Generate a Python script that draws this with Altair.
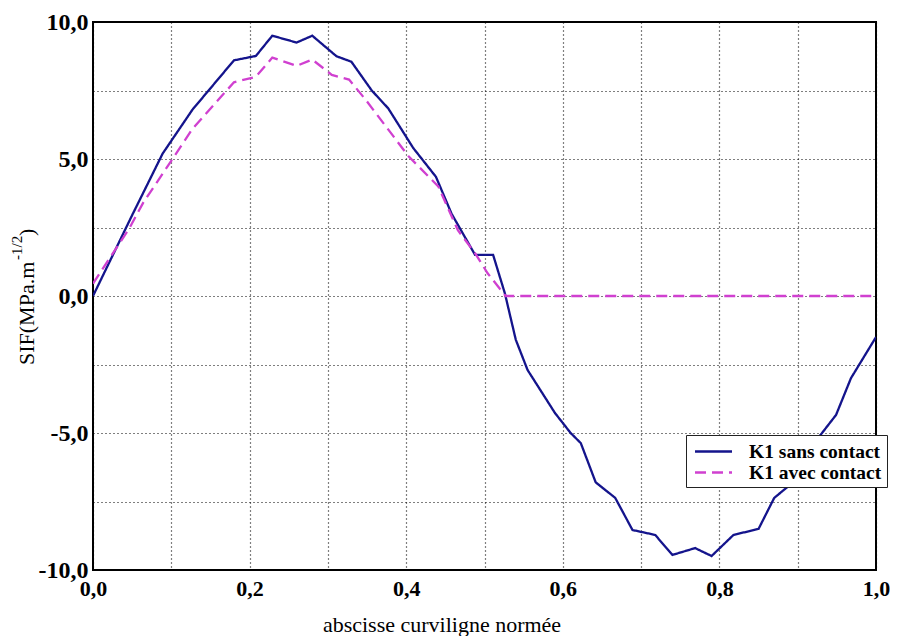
import altair as alt
import pandas as pd

# ---- data ----
series = ["K1 sans contact", "K1 avec contact"]

x_sans = [0.0, 0.05, 0.089, 0.127, 0.18, 0.208, 0.229, 0.26, 0.28, 0.311, 0.33,
          0.356, 0.377, 0.409, 0.438, 0.458, 0.488, 0.511, 0.526, 0.54, 0.555,
          0.59, 0.61, 0.623, 0.642, 0.667, 0.689, 0.718, 0.74, 0.769, 0.79,
          0.818, 0.85, 0.87, 0.894, 0.924, 0.949, 0.968, 1.0]
y_sans = [0.0, 2.95, 5.2, 6.8, 8.6, 8.76, 9.5, 9.25, 9.5, 8.75, 8.55,
          7.5, 6.85, 5.4, 4.35, 3.0, 1.5, 1.5, 0.1, -1.6, -2.7,
          -4.27, -5.0, -5.37, -6.8, -7.37, -8.54, -8.72, -9.45, -9.2, -9.49,
          -8.72, -8.5, -7.37, -6.8, -5.26, -4.34, -3.0, -1.5]

x_avec = [0.0, 0.047, 0.064, 0.098, 0.127, 0.18, 0.208, 0.229, 0.26, 0.28,
          0.305, 0.327, 0.348, 0.403, 0.441, 0.466, 0.488, 0.504, 0.527, 1.0]
y_avec = [0.45, 2.5, 3.4, 4.85, 6.1, 7.8, 8.0, 8.7, 8.4, 8.63,
          8.07, 7.9, 7.17, 5.1, 4.0, 2.4, 1.56, 0.83, 0.0, 0.0]

x_ticks = [0.0, 0.1, 0.2, 0.3, 0.4, 0.5, 0.6, 0.7, 0.8, 0.9, 1.0]
y_ticks = [-10, -7.5, -5, -2.5, 0, 2.5, 5, 7.5, 10]

x_title = "abscisse curviligne normée"
y_title_main = "SIF(MPa.m"
y_title_sup = "-1/2"
y_title_end = ")"

BLUE = "#14148c"
MAGENTA = "#d040d0"
FONT = "Liberation Serif"

df = pd.concat([
    pd.DataFrame({"x": x_sans, "y": y_sans, "serie": series[0],
                  "ordre": list(range(len(x_sans)))}),
    pd.DataFrame({"x": x_avec, "y": y_avec, "serie": series[1],
                  "ordre": list(range(len(x_avec)))}),
], ignore_index=True)

legend = alt.Legend(
    title=None, orient="none", legendX=593, legendY=413,
    strokeColor="#222222", fillColor="white", padding=5,
    labelFont=FONT, labelFontSize=19.5, labelFontWeight="bold", labelColor="black",
    symbolType="M-1.85,0H1.85", symbolSize=400, symbolStrokeWidth=2.5,
    symbolOffset=11, labelOffset=24, rowPadding=0, cornerRadius=0, symbolLimit=0,
)

x_axis = alt.Axis(
    values=x_ticks, title=None, grid=True, ticks=False, domain=False,
    labelExpr="round(datum.value*10) % 2 == 0 ? replace(format(datum.value, '.1f'), '.', ',') : ''",
    labelFont=FONT, labelFontSize=22, labelFontWeight="bold", labelColor="black",
    labelPadding=8, labelFlush=False, labelOverlap=False,
)
y_axis = alt.Axis(
    values=y_ticks, title=None, grid=True, ticks=False, domain=False,
    labelExpr="datum.value % 5 == 0 ? replace(replace(format(datum.value, '.1f'), '.', ','), '\u2212', '-') : ''",
    labelFont=FONT, labelFontSize=24, labelFontWeight="bold", labelColor="black",
    labelPadding=5, labelFlush=False, labelOverlap=False,
)

lines = alt.Chart(df).mark_line(strokeWidth=2.3, clip=True).encode(
    x=alt.X("x:Q", scale=alt.Scale(domain=[0, 1], nice=False, zero=False), axis=x_axis),
    y=alt.Y("y:Q", scale=alt.Scale(domain=[-10, 10], nice=False), axis=y_axis),
    color=alt.Color("serie:N", scale=alt.Scale(domain=series, range=[BLUE, MAGENTA]),
                    legend=legend, sort=series),
    strokeDash=alt.StrokeDash("serie:N", scale=alt.Scale(domain=series, range=[[1, 0], [11, 6]]),
                              legend=legend, sort=series),
    order="ordre:Q",
)

one = pd.DataFrame({"k": [0]})

xt = alt.Chart(one).mark_text(
    font=FONT, fontSize=22, color="black", align="center", baseline="alphabetic"
).encode(x=alt.value(349), y=alt.value(610), text=alt.value(x_title))

yt1 = alt.Chart(one).mark_text(
    font=FONT, fontSize=22, color="black", align="left", baseline="middle", angle=270
).encode(x=alt.value(-66), y=alt.value(343), text=alt.value(y_title_main))

yt2 = alt.Chart(one).mark_text(
    font=FONT, fontSize=15, color="black", align="left", baseline="middle", angle=270
).encode(x=alt.value(-76), y=alt.value(238), text=alt.value(y_title_sup))

yt3 = alt.Chart(one).mark_text(
    font=FONT, fontSize=22, color="black", align="left", baseline="middle", angle=270
).encode(x=alt.value(-66), y=alt.value(214), text=alt.value(y_title_end))

chart = alt.layer(lines, xt, yt1, yt2, yt3).properties(
    width=783, height=548, autosize="none",
    padding={"left": 85, "top": 14, "right": 14, "bottom": 66},
    background="white",
).configure_view(
    stroke="black", strokeWidth=2
).configure_axis(
    gridColor="black", gridDash=[1, 3], gridWidth=1.2, gridOpacity=1,
)

chart.save("out.html", embed_options={"renderer": "svg", "actions": False})
